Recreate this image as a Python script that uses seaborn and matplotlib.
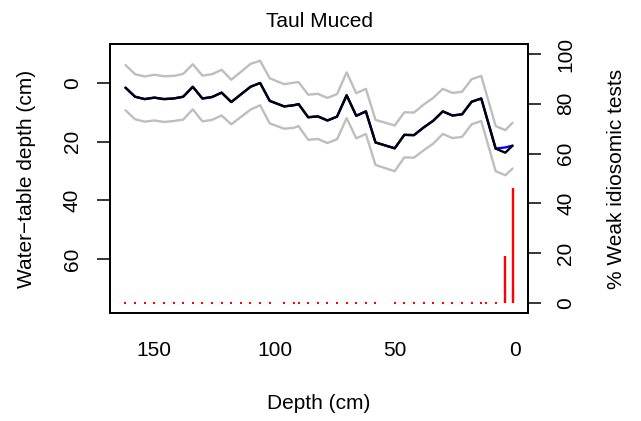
import numpy as np
import pandas as pd
import matplotlib
matplotlib.use("Agg")
import matplotlib.pyplot as plt
import seaborn as sns

# Sample depths down the core (cm)
depth = [162, 158, 154, 150, 146, 142, 138, 134, 130, 126, 122, 118, 114, 110,
         106, 102, 96, 92, 90, 86, 82, 78, 74, 70, 66, 62, 58, 50, 46, 42, 38,
         34, 30, 26, 22, 18, 14, 12, 8, 4, 1]

# Reconstructed water-table depth (cm)
wtd = [1.5, 4.6, 5.4, 4.9, 5.4, 5.2, 4.6, 1.2, 5.2, 4.7, 3.2, 6.4, 3.8, 1.2,
       -0.1, 6.0, 7.9, 7.5, 7.1, 11.6, 11.3, 12.7, 11.4, 4.1, 11.1, 9.6, 20.2,
       22.2, 17.6, 17.7, 15.1, 12.8, 9.6, 11.0, 10.6, 6.3, 5.2, 10.9, 22.3,
       23.7, 21.3]

# Alternative reconstruction (drawn underneath in blue)
wtd_alt = [1.5, 4.6, 5.4, 4.9, 5.4, 5.2, 4.6, 1.2, 5.2, 4.7, 3.2, 6.4, 3.8, 1.2,
           -0.1, 6.0, 7.9, 7.5, 7.1, 11.6, 11.3, 12.7, 11.4, 4.1, 11.1, 9.6, 20.2,
           22.2, 17.6, 17.7, 15.1, 12.8, 9.6, 11.0, 10.6, 6.3, 5.2, 10.9, 22.3,
           21.9, 21.3]

# Sample-specific prediction error (cm)
err = [7.7, 7.7, 7.7, 7.8, 7.8, 7.7, 7.8, 7.7, 7.8, 7.8, 7.8, 7.6, 7.7, 7.8,
       7.6, 7.7, 7.6, 7.7, 7.5, 7.7, 7.7, 7.7, 7.7, 7.8, 7.7, 7.7, 7.7, 7.8,
       7.7, 7.7, 7.8, 7.8, 7.7, 7.7, 7.7, 7.7, 7.7, 7.7, 7.7, 7.7, 7.8]

# Percentage of weak idiosomic tests
weak_pct = [0] * 39 + [19, 46]

x_ticks = [0, 50, 100, 150]
y_ticks = [0, 20, 40, 60]
pct_ticks = [0, 20, 40, 60, 80, 100]

df = pd.DataFrame({"depth": depth, "wtd": wtd, "alt": wtd_alt, "err": err,
                   "pct": weak_pct})
df["upper"] = df["wtd"] - df["err"]
df["lower"] = df["wtd"] + df["err"]

sns.set_style("white")
plt.rcParams["font.family"] = ["Liberation Sans", "DejaVu Sans"]
plt.rcParams["text.color"] = "black"
plt.rcParams["axes.labelcolor"] = "black"
plt.rcParams["axes.titlecolor"] = "black"
FS = 15

fig = plt.figure(figsize=(6.41, 4.21), dpi=100)
ax = fig.add_axes([110 / 641, 1 - 313 / 421, 418 / 641, 269 / 421])

grey = "#BEBEBE"
sns.lineplot(data=df, x="depth", y="upper", color=grey, lw=1.7, ax=ax, estimator=None)
sns.lineplot(data=df, x="depth", y="lower", color=grey, lw=1.7, ax=ax, estimator=None)
sns.lineplot(data=df, x="depth", y="alt", color="blue", lw=1.7, ax=ax, estimator=None)
sns.lineplot(data=df, x="depth", y="wtd", color="black", lw=1.7, ax=ax, estimator=None)

span = max(depth) - min(depth)
ax.set_xlim(max(depth) + 0.04 * span, min(depth) - 0.04 * span)
ax.set_ylim(78.4, -13.4)
ax.set_xticks(x_ticks)
ax.set_yticks(y_ticks)
ax.tick_params(axis="both", direction="out", length=9.4, width=1.1, colors="black",
               labelsize=FS, pad=11)
ax.tick_params(axis="y", labelrotation=90)
for lbl in ax.get_yticklabels():
    lbl.set_va("center")
ax.set_xlabel("Depth (cm)", fontsize=FS)
ax.set_ylabel("Water\u2212table depth (cm)", fontsize=FS)
ax.xaxis.set_label_coords(0.5, -0.30)
ax.yaxis.set_label_coords(-0.178, 0.5)
ax.set_title("Taul Muced", fontsize=FS, pad=12)
for s in ax.spines.values():
    s.set_linewidth(1.3)
    s.set_color("black")

ax2 = ax.twinx()
nz = df[df["pct"] > 0]
ax2.vlines(nz["depth"], 0, nz["pct"], color="red", lw=1.7)
sns.scatterplot(data=df[df["pct"] == 0], x="depth", y="pct", color="red", marker="s",
                s=4, linewidth=0, ax=ax2)
ax2.set_ylim(-4, 104)
ax2.set_yticks(pct_ticks)
ax2.tick_params(axis="y", direction="out", length=9.4, width=1.1, colors="black",
                labelsize=FS, pad=11, labelrotation=90)
for lbl in ax2.get_yticklabels():
    lbl.set_va("center")
ax2.set_ylabel("% Weak idiosomic tests", fontsize=FS)
ax2.yaxis.set_label_coords(1.19, 0.5)
ax2.set_xlim(ax.get_xlim())
for s in ax2.spines.values():
    s.set_linewidth(1.3)
    s.set_color("black")

fig.savefig("out.png", dpi=100)
